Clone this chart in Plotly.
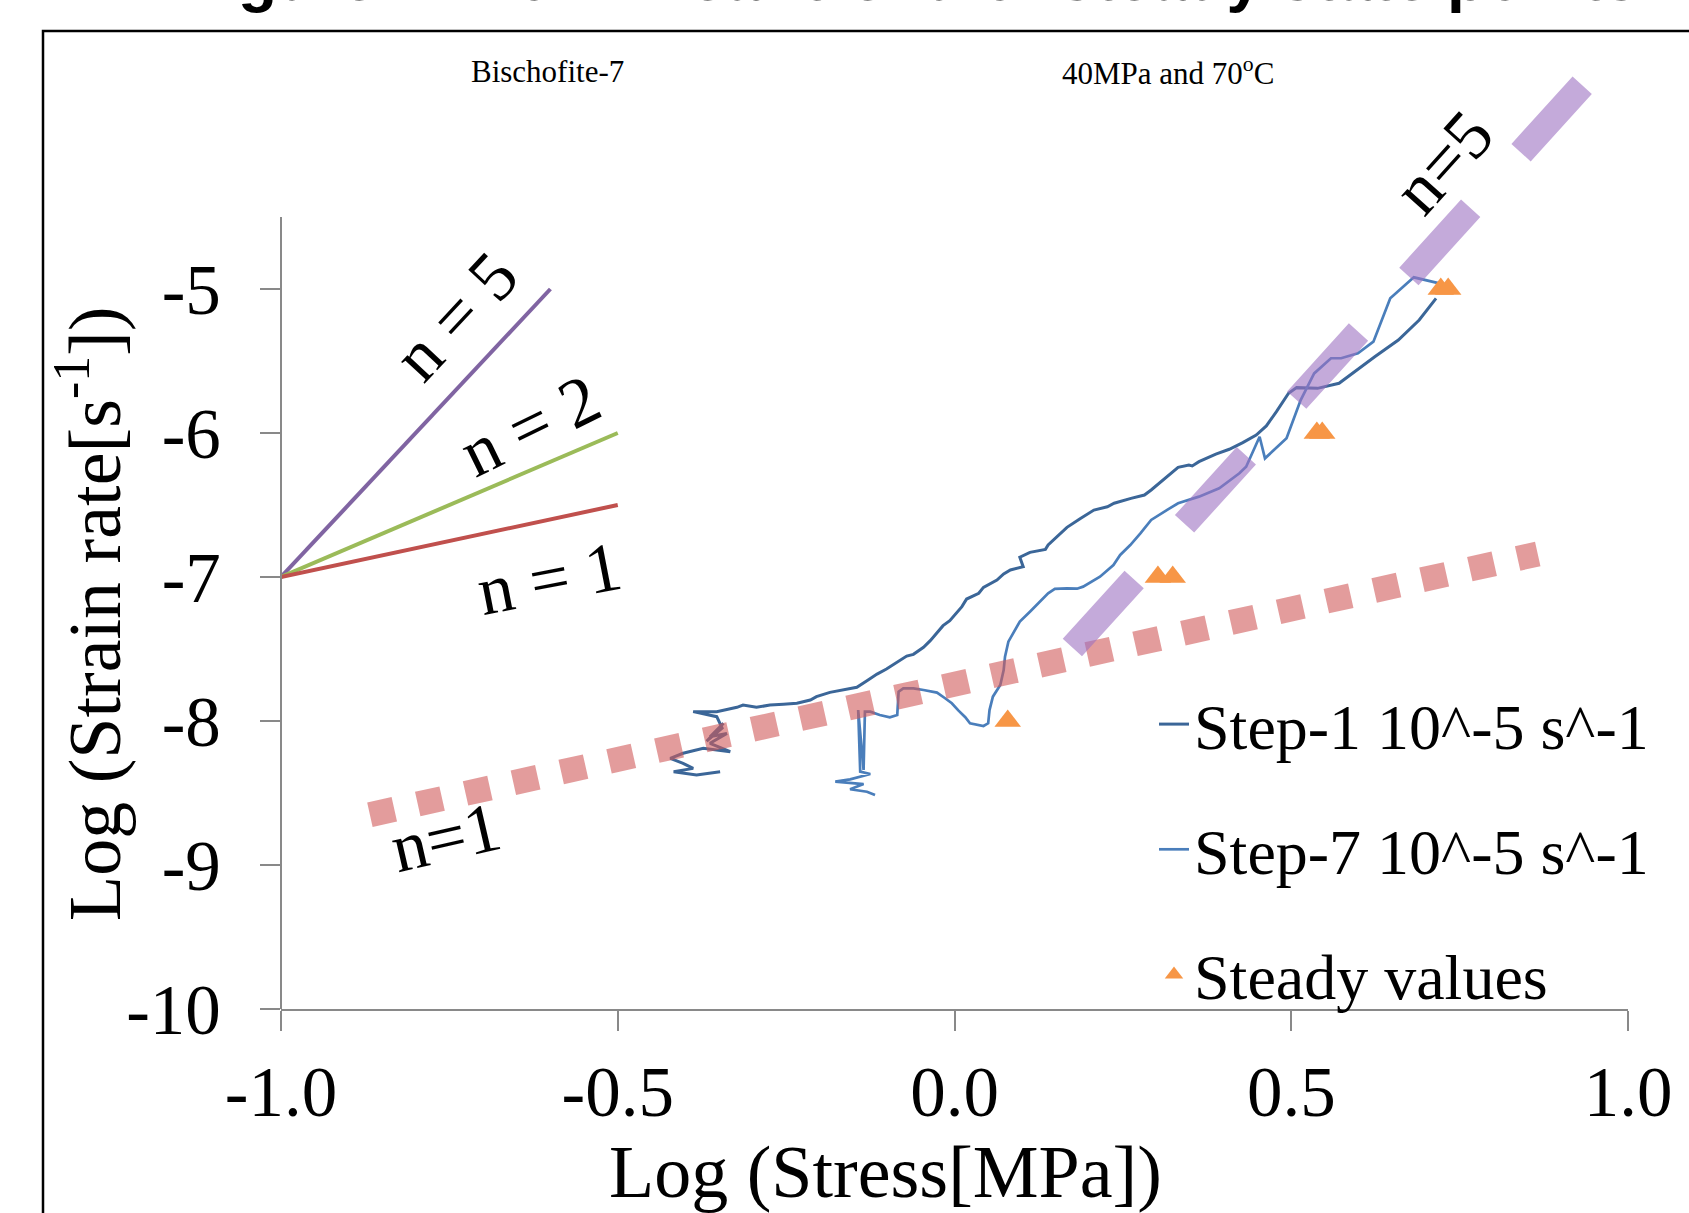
import plotly.graph_objects as go

# ---------------- data ----------------
# Step-1 test (log stress [MPa], log strain rate [1/s])
step1_log_stress = [-0.348, -0.383, -0.417, -0.388, -0.403, -0.422, -0.403, -0.373, -0.333, -0.363,
                    -0.338, -0.363, -0.343, -0.368, -0.345, -0.353, -0.388, -0.353, -0.323, -0.314,
                    -0.294, -0.274, -0.254, -0.234, -0.214, -0.205, -0.185, -0.165, -0.145, -0.130,
                    -0.115, -0.101, -0.086, -0.071, -0.061, -0.046, -0.036, -0.026, -0.017, -0.007,
                    0.001, 0.011, 0.018, 0.036, 0.043, 0.063, 0.073, 0.083, 0.102, 0.097,
                    0.112, 0.135, 0.139, 0.152, 0.167, 0.187, 0.207, 0.227, 0.237, 0.262,
                    0.282, 0.292, 0.312, 0.332, 0.348, 0.353, 0.363, 0.388, 0.408, 0.428,
                    0.448, 0.463, 0.478, 0.496, 0.508, 0.539, 0.571, 0.594, 0.624, 0.659,
                    0.690, 0.715]
step1_log_rate = [-8.352, -8.375, -8.352, -8.329, -8.294, -8.259, -8.224, -8.190, -8.213, -8.155,
                  -8.086, -8.109, -8.016, -8.140, -8.050, -7.970, -7.935, -7.935, -7.905, -7.889,
                  -7.905, -7.889, -7.884, -7.877, -7.854, -7.831, -7.801, -7.785, -7.766, -7.720,
                  -7.674, -7.639, -7.593, -7.549, -7.537, -7.488, -7.442, -7.391, -7.338, -7.303,
                  -7.257, -7.206, -7.153, -7.113, -7.072, -7.021, -6.979, -6.951, -6.928, -6.863,
                  -6.829, -6.808, -6.778, -6.720, -6.655, -6.593, -6.535, -6.512, -6.488, -6.454,
                  -6.431, -6.396, -6.315, -6.238, -6.222, -6.229, -6.199, -6.146, -6.113, -6.067,
                  -6.014, -5.951, -5.852, -5.724, -5.685, -5.690, -5.655, -5.574, -5.470, -5.354,
                  -5.215, -5.065]

# Step-7 test
step7_log_stress = [-0.118, -0.130, -0.155, -0.135, -0.177, -0.155, -0.125, -0.140, -0.143, -0.135,
                    -0.133, -0.125, -0.111, -0.096, -0.085, -0.083, -0.076, -0.061, -0.046, -0.026,
                    -0.014, -0.004, 0.006, 0.016, 0.023, 0.043, 0.050, 0.052, 0.057, 0.068,
                    0.073, 0.075, 0.080, 0.090, 0.097, 0.112, 0.127, 0.139, 0.149, 0.167,
                    0.182, 0.191, 0.216, 0.236, 0.246, 0.261, 0.276, 0.292, 0.317, 0.332,
                    0.363, 0.393, 0.423, 0.433, 0.453, 0.461, 0.493, 0.514, 0.534, 0.559,
                    0.574, 0.599, 0.622, 0.647, 0.682, 0.720]
step7_log_rate = [-8.514, -8.491, -8.474, -8.438, -8.421, -8.405, -8.368, -8.352, -7.924, -8.340,
                  -7.935, -7.935, -7.958, -7.974, -7.958, -7.796, -7.773, -7.773, -7.785, -7.803,
                  -7.842, -7.877, -7.928, -7.974, -8.016, -8.035, -8.016, -7.924, -7.831, -7.750,
                  -7.646, -7.553, -7.449, -7.368, -7.310, -7.241, -7.171, -7.113, -7.083, -7.079,
                  -7.081, -7.067, -6.998, -6.917, -6.847, -6.778, -6.697, -6.604, -6.530, -6.488,
                  -6.442, -6.384, -6.280, -6.234, -6.026, -6.176, -6.037, -5.771, -5.586, -5.481,
                  -5.481, -5.447, -5.366, -5.065, -4.919, -4.961]

# Steady-state points
steady_log_stress = [0.079, 0.302, 0.324, 0.538, 0.546, 0.722, 0.733]
steady_log_rate = [-8.0, -7.0, -7.0, -6.0, -6.0, -5.0, -5.0]

# Slope guides (n = 5, 2, 1) starting from a common point
guide_n5_x = [-1.0, -0.6]
guide_n5_y = [-7.0, -5.0]
guide_n2_x = [-1.0, -0.5]
guide_n2_y = [-7.0, -6.0]
guide_n1_x = [-1.0, -0.5]
guide_n1_y = [-7.0, -6.5]

# Trend lines through the data
trend_n1_x = [-0.868, 0.866]
trend_n1_y = [-8.651, -6.840]
trend_n5_x = [0.175, 0.932]
trend_n5_y = [-7.490, -3.585]

x_ticks = [-1.0, -0.5, 0.0, 0.5, 1.0]
x_tick_text = ["-1.0", "-0.5", "0.0", "0.5", "1.0"]
y_ticks = [-10, -9, -8, -7, -6, -5]
y_tick_text = ["-10", "-9", "-8", "-7", "-6", "-5"]
y_axis_top = -4.5

# ---------------- layout geometry ----------------
W, H = 1689, 1213
M_L, M_R, M_T, M_B = 281, 61, 59, 204
PLOT_W = W - M_L - M_R
PLOT_H = H - M_T - M_B
X_RANGE = [-1.0, 1.0]
Y_PER_UNIT = 144.0
Y_RANGE = [-10.0, -10.0 + PLOT_H / Y_PER_UNIT]


def px(xpix):
    """pixel column -> paper x"""
    return (xpix - M_L) / PLOT_W


def py(ypix):
    """pixel row -> paper y"""
    return (H - M_B - ypix) / PLOT_H


def yv(val):
    """data y -> paper y"""
    return (val - Y_RANGE[0]) / (Y_RANGE[1] - Y_RANGE[0])


SERIF = "Liberation Serif"
AXIS_GREY = "#898989"

fig = go.Figure()

fig.add_trace(go.Scatter(
    x=step1_log_stress, y=step1_log_rate, mode="lines",
    name="Step-1 10^-5 s^-1", legendgroup="s1",
    line=dict(color="#3B6698", width=3),
))
fig.add_trace(go.Scatter(
    x=step7_log_stress, y=step7_log_rate, mode="lines",
    name="Step-7 10^-5 s^-1", legendgroup="s7",
    line=dict(color="#4A7EBB", width=2.7),
))

for gx, gy, col in [(guide_n5_x, guide_n5_y, "#8064A2"),
                    (guide_n2_x, guide_n2_y, "#9BBB59"),
                    (guide_n1_x, guide_n1_y, "#C0504D")]:
    fig.add_trace(go.Scatter(x=gx, y=gy, mode="lines", showlegend=False,
                             hoverinfo="skip", line=dict(color=col, width=4)))

fig.add_trace(go.Scatter(
    x=trend_n1_x, y=trend_n1_y, mode="lines", showlegend=False, hoverinfo="skip",
    line=dict(color="rgba(208,90,90,0.6)", width=25, dash="25px,24px"),
))
fig.add_trace(go.Scatter(
    x=trend_n5_x, y=trend_n5_y, mode="lines", showlegend=False, hoverinfo="skip",
    line=dict(color="rgba(157,113,193,0.6)", width=26, dash="92px,75px"),
))

fig.add_trace(go.Scatter(
    x=steady_log_stress, y=steady_log_rate, mode="markers",
    name="Steady values", legendgroup="st",
    marker=dict(symbol="triangle-up", size=23, color="#F79646", line=dict(width=0)),
))

annotations = [
    dict(text="<b>Figure 7: Non-linear trend of steady state points</b>",
         x=px(910), y=py(-22), xanchor="center", yanchor="middle",
         font=dict(family="Liberation Sans", size=64, color="black")),
    dict(text="Bischofite-7", x=px(547), y=py(71), xanchor="center", yanchor="middle",
         font=dict(family=SERIF, size=31, color="black")),
    dict(text="40MPa and 70<sup>o</sup>C", x=px(1168), y=py(71), xanchor="center", yanchor="middle",
         font=dict(family=SERIF, size=31, color="black")),
    dict(text="n = 5", x=px(455), y=py(316), textangle=-47, xanchor="center", yanchor="middle",
         font=dict(family=SERIF, size=70, color="black")),
    dict(text="n = 2", x=px(530), y=py(426), textangle=-26, xanchor="center", yanchor="middle",
         font=dict(family=SERIF, size=70, color="black")),
    dict(text="n = 1", x=px(549), y=py(578), textangle=-11, xanchor="center", yanchor="middle",
         font=dict(family=SERIF, size=70, color="black")),
    dict(text="n=5", x=px(1443), y=py(163), textangle=-48, xanchor="center", yanchor="middle",
         font=dict(family=SERIF, size=70, color="black")),
    dict(text="n=1", x=px(445), y=py(837), textangle=-13, xanchor="center", yanchor="middle",
         font=dict(family=SERIF, size=70, color="black")),
    dict(text="Log (Stress[MPa])", x=px(885), y=py(1172), xanchor="center", yanchor="middle",
         font=dict(family=SERIF, size=74, color="black")),
    dict(text="Log (Strain rate[s<sup>-1</sup>])", x=px(89), y=py(614), textangle=-90,
         xanchor="center", yanchor="middle",
         font=dict(family=SERIF, size=74, color="black")),
]
for a in annotations:
    a.update(xref="paper", yref="paper", showarrow=False)

shapes = [
    # vertical axis line, stops at -4.5
    dict(type="line", xref="paper", yref="paper", x0=0, x1=0,
         y0=yv(Y_RANGE[0]), y1=yv(y_axis_top), line=dict(color=AXIS_GREY, width=2)),
    # chart frame
    dict(type="rect", xref="paper", yref="paper",
         x0=px(43), x1=px(1720), y0=py(1260), y1=py(31),
         line=dict(color="black", width=2.5), fillcolor="rgba(0,0,0,0)", layer="below"),
]

fig.update_layout(
    width=W, height=H,
    margin=dict(l=M_L, r=M_R, t=M_T, b=M_B, pad=0, autoexpand=False),
    paper_bgcolor="white", plot_bgcolor="white",
    showlegend=True,
    legend=dict(x=px(1154), y=py(676), xanchor="left", yanchor="top",
                font=dict(family=SERIF, size=64, color="black"),
                bgcolor="rgba(0,0,0,0)", tracegroupgap=39, itemsizing="trace"),
    annotations=annotations,
    shapes=shapes,
    xaxis=dict(range=X_RANGE, tickvals=x_ticks, ticktext=x_tick_text,
               ticks="outside", ticklen=20, tickwidth=2, tickcolor=AXIS_GREY,
               showline=True, linecolor=AXIS_GREY, linewidth=2,
               showgrid=False, zeroline=False,
               tickfont=dict(family=SERIF, size=71, color="black")),
    yaxis=dict(range=Y_RANGE, tickvals=y_ticks, ticktext=y_tick_text,
               ticks="outside", ticklen=20, tickwidth=2, tickcolor=AXIS_GREY,
               ticklabelstandoff=25,
               showline=False, showgrid=False, zeroline=False,
               tickfont=dict(family=SERIF, size=71, color="black")),
)

fig.write_html("out.html")
